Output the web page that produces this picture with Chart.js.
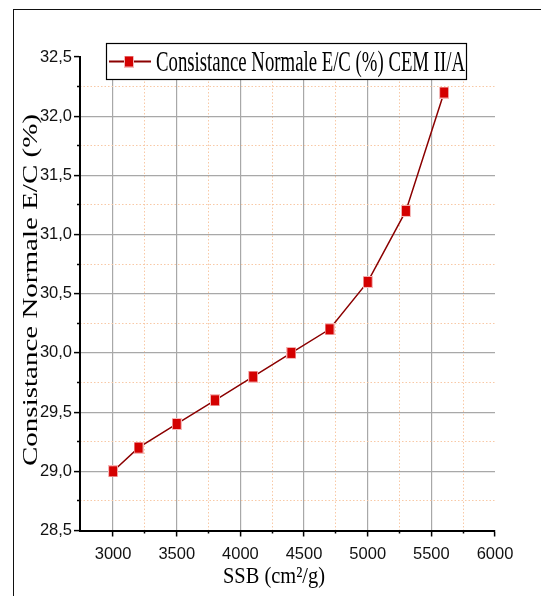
<!DOCTYPE html>
<html><head><meta charset="utf-8">
<script src="https://cdn.jsdelivr.net/npm/chart.js@4.4.1/dist/chart.umd.min.js"></script>
<style>
html,body{margin:0;padding:0;background:#fff;}
#wrap{position:relative;width:541px;height:596px;overflow:hidden;background:#fff;}
#frame{position:absolute;left:13px;top:8.5px;width:700px;height:800px;border-left:1.5px solid #111;border-top:1.5px solid #111;}
canvas{position:absolute;left:0;top:0;}
</style></head><body>
<div id="wrap"><div id="frame"></div><canvas id="c" width="541" height="596"></canvas></div>
<script>
const ssb = [3000, 3200, 3500, 3800, 4100, 4400, 4700, 5000, 5300, 5600];
const consistance = [29.0, 29.2, 29.4, 29.6, 29.8, 30.0, 30.2, 30.6, 31.2, 32.2];
const seriesLabel = 'Consistance Normale E/C (%) CEM II/A';
const xTitle = 'SSB (cm²/g)';
const yTitle = 'Consistance Normale E/C (%)';
const xMajorTicks = [3000, 3500, 4000, 4500, 5000, 5500, 6000];
const xTickLabels = ['3000', '3500', '4000', '4500', '5000', '5500', '6000'];
const xMinorTicks = [3250, 3750, 4250, 4750, 5250, 5750];
const yMajorTicks = [28.5, 29.0, 29.5, 30.0, 30.5, 31.0, 31.5, 32.0, 32.5];
const yTickLabels = ['28,5', '29,0', '29,5', '30,0', '30,5', '31,0', '31,5', '32,0', '32,5'];
const yMinorTicks = [28.75, 29.25, 29.75, 30.25, 30.75, 31.25, 31.75, 32.25];

const TICK_FONT = {family: '"Liberation Sans Narrow", "Arial Narrow", "Liberation Sans", sans-serif', size: 16.5};
const SERIF = '"Liberation Serif", "Times New Roman", serif';
const MAJOR_GRID = '#a8a8a8';
const MINOR_GRID = '#f8c9a6';

function makeMarker() {
  const c = document.createElement('canvas');
  c.width = 10; c.height = 12;
  const g = c.getContext('2d');
  g.fillStyle = '#f5b9b9'; g.fillRect(0, 0, 10, 12);
  g.fillStyle = '#d40000'; g.fillRect(1, 1, 8, 10);
  return c;
}
const marker = makeMarker();

function squeezedText(ctx, text, size, x, y, targetWidth, align) {
  ctx.save();
  ctx.font = size + 'px ' + SERIF;
  ctx.fillStyle = '#000'; ctx.textBaseline = 'alphabetic'; ctx.textAlign = align;
  const w = ctx.measureText(text).width;
  ctx.translate(x, y);
  ctx.scale(targetWidth / w, 1);
  ctx.fillText(text, 0, 0);
  ctx.restore();
}

const decorPlugin = {
  id: 'decor',
  afterDraw(chart) {
    const ctx = chart.ctx;
    // legend box
    ctx.save();
    const L = 106.5, T = 43.5, W = 360, H = 36;
    ctx.fillStyle = '#fff'; ctx.fillRect(L, T, W, H);
    ctx.strokeStyle = '#000'; ctx.lineWidth = 1.2; ctx.strokeRect(L, T, W, H);
    ctx.strokeStyle = '#8b0000'; ctx.lineWidth = 2;
    ctx.beginPath(); ctx.moveTo(109, 61.5); ctx.lineTo(151, 61.5); ctx.stroke();
    ctx.drawImage(marker, 124, 55.5);
    ctx.restore();
    squeezedText(ctx, seriesLabel, 30, 156, 70.5, 309, 'left');
    // x title
    squeezedText(ctx, xTitle, 23, 274, 583, 102, 'center');
    // y title
    ctx.save();
    ctx.font = '29px ' + SERIF;
    ctx.fillStyle = '#000'; ctx.textAlign = 'center'; ctx.textBaseline = 'alphabetic';
    ctx.translate(37, 290);
    ctx.scale(0.73, 1);
    ctx.rotate(-Math.PI / 2);
    ctx.fillText(yTitle, 0, 0);
    ctx.restore();
  }
};

const AREA_BOTTOM = 530.5;

new Chart(document.getElementById('c').getContext('2d'), {
  type: 'line',
  data: {
    datasets: [{
      label: seriesLabel,
      data: ssb.map((x, i) => ({x: x, y: consistance[i]})),
      borderColor: '#8b0000',
      backgroundColor: '#d40000',
      borderWidth: 1.5,
      pointStyle: marker,
      pointRadius: 5,
      pointHoverRadius: 5,
      tension: 0,
      fill: false
    }]
  },
  options: {
    responsive: false,
    animation: false,
    events: [],
    layout: {padding: {top: 57, right: 46, left: 0, bottom: 0}},
    plugins: {
      legend: {display: false},
      tooltip: {enabled: false}
    },
    scales: {
      x: {
        type: 'linear', position: 'bottom', min: 2740, max: 6000, weight: 0,
        afterBuildTicks: s => { s.ticks = xMajorTicks.map(v => ({value: v})); },
        afterFit: s => { s.height = 596 - AREA_BOTTOM; },
        ticks: {
          autoSkip: false, maxRotation: 0, padding: 8, color: '#111', font: TICK_FONT,
          callback: v => { const i = xMajorTicks.indexOf(v); return i >= 0 ? xTickLabels[i] : ''; }
        },
        grid: {
          color: c => (c.tick && c.tick.value < 6000) ? MAJOR_GRID : 'transparent',
          lineWidth: 1.2, tickColor: '#000', tickLength: 6, tickWidth: 1.5
        },
        border: {display: true, color: '#000', width: 2}
      },
      x2: {
        type: 'linear', position: 'bottom', min: 2740, max: 6000, weight: -1,
        afterBuildTicks: s => { s.ticks = xMinorTicks.map(v => ({value: v})); },
        afterFit: s => { s.height = 0; },
        ticks: {display: false},
        grid: {color: MINOR_GRID, lineWidth: 1, tickColor: '#000', tickLength: 3, tickWidth: 1.5},
        border: {display: false, dash: [1.5, 2]}
      },
      y: {
        type: 'linear', position: 'left', min: 28.5, max: 32.5, weight: 0,
        afterBuildTicks: s => { s.ticks = yMajorTicks.map(v => ({value: v})); },
        afterFit: s => { s.width = 80; },
        ticks: {
          autoSkip: false, padding: 2, color: '#111', font: TICK_FONT,
          callback: v => { const i = yMajorTicks.findIndex(t => Math.abs(t - v) < 1e-9); return i >= 0 ? yTickLabels[i] : ''; }
        },
        grid: {
          color: c => (c.tick && c.tick.value > 28.5 && c.tick.value < 32.5) ? MAJOR_GRID : 'transparent',
          lineWidth: 1.2, tickColor: '#000', tickLength: 6, tickWidth: 1.5
        },
        border: {display: true, color: '#000', width: 2}
      },
      y2: {
        type: 'linear', position: 'left', min: 28.5, max: 32.5, weight: -1,
        afterBuildTicks: s => { s.ticks = yMinorTicks.map(v => ({value: v})); },
        afterFit: s => { s.width = 0; },
        ticks: {display: false},
        grid: {color: MINOR_GRID, lineWidth: 1, tickColor: '#000', tickLength: 3, tickWidth: 1.5},
        border: {display: false, dash: [1.5, 2]}
      }
    }
  },
  plugins: [decorPlugin]
});
</script>
</body></html>
